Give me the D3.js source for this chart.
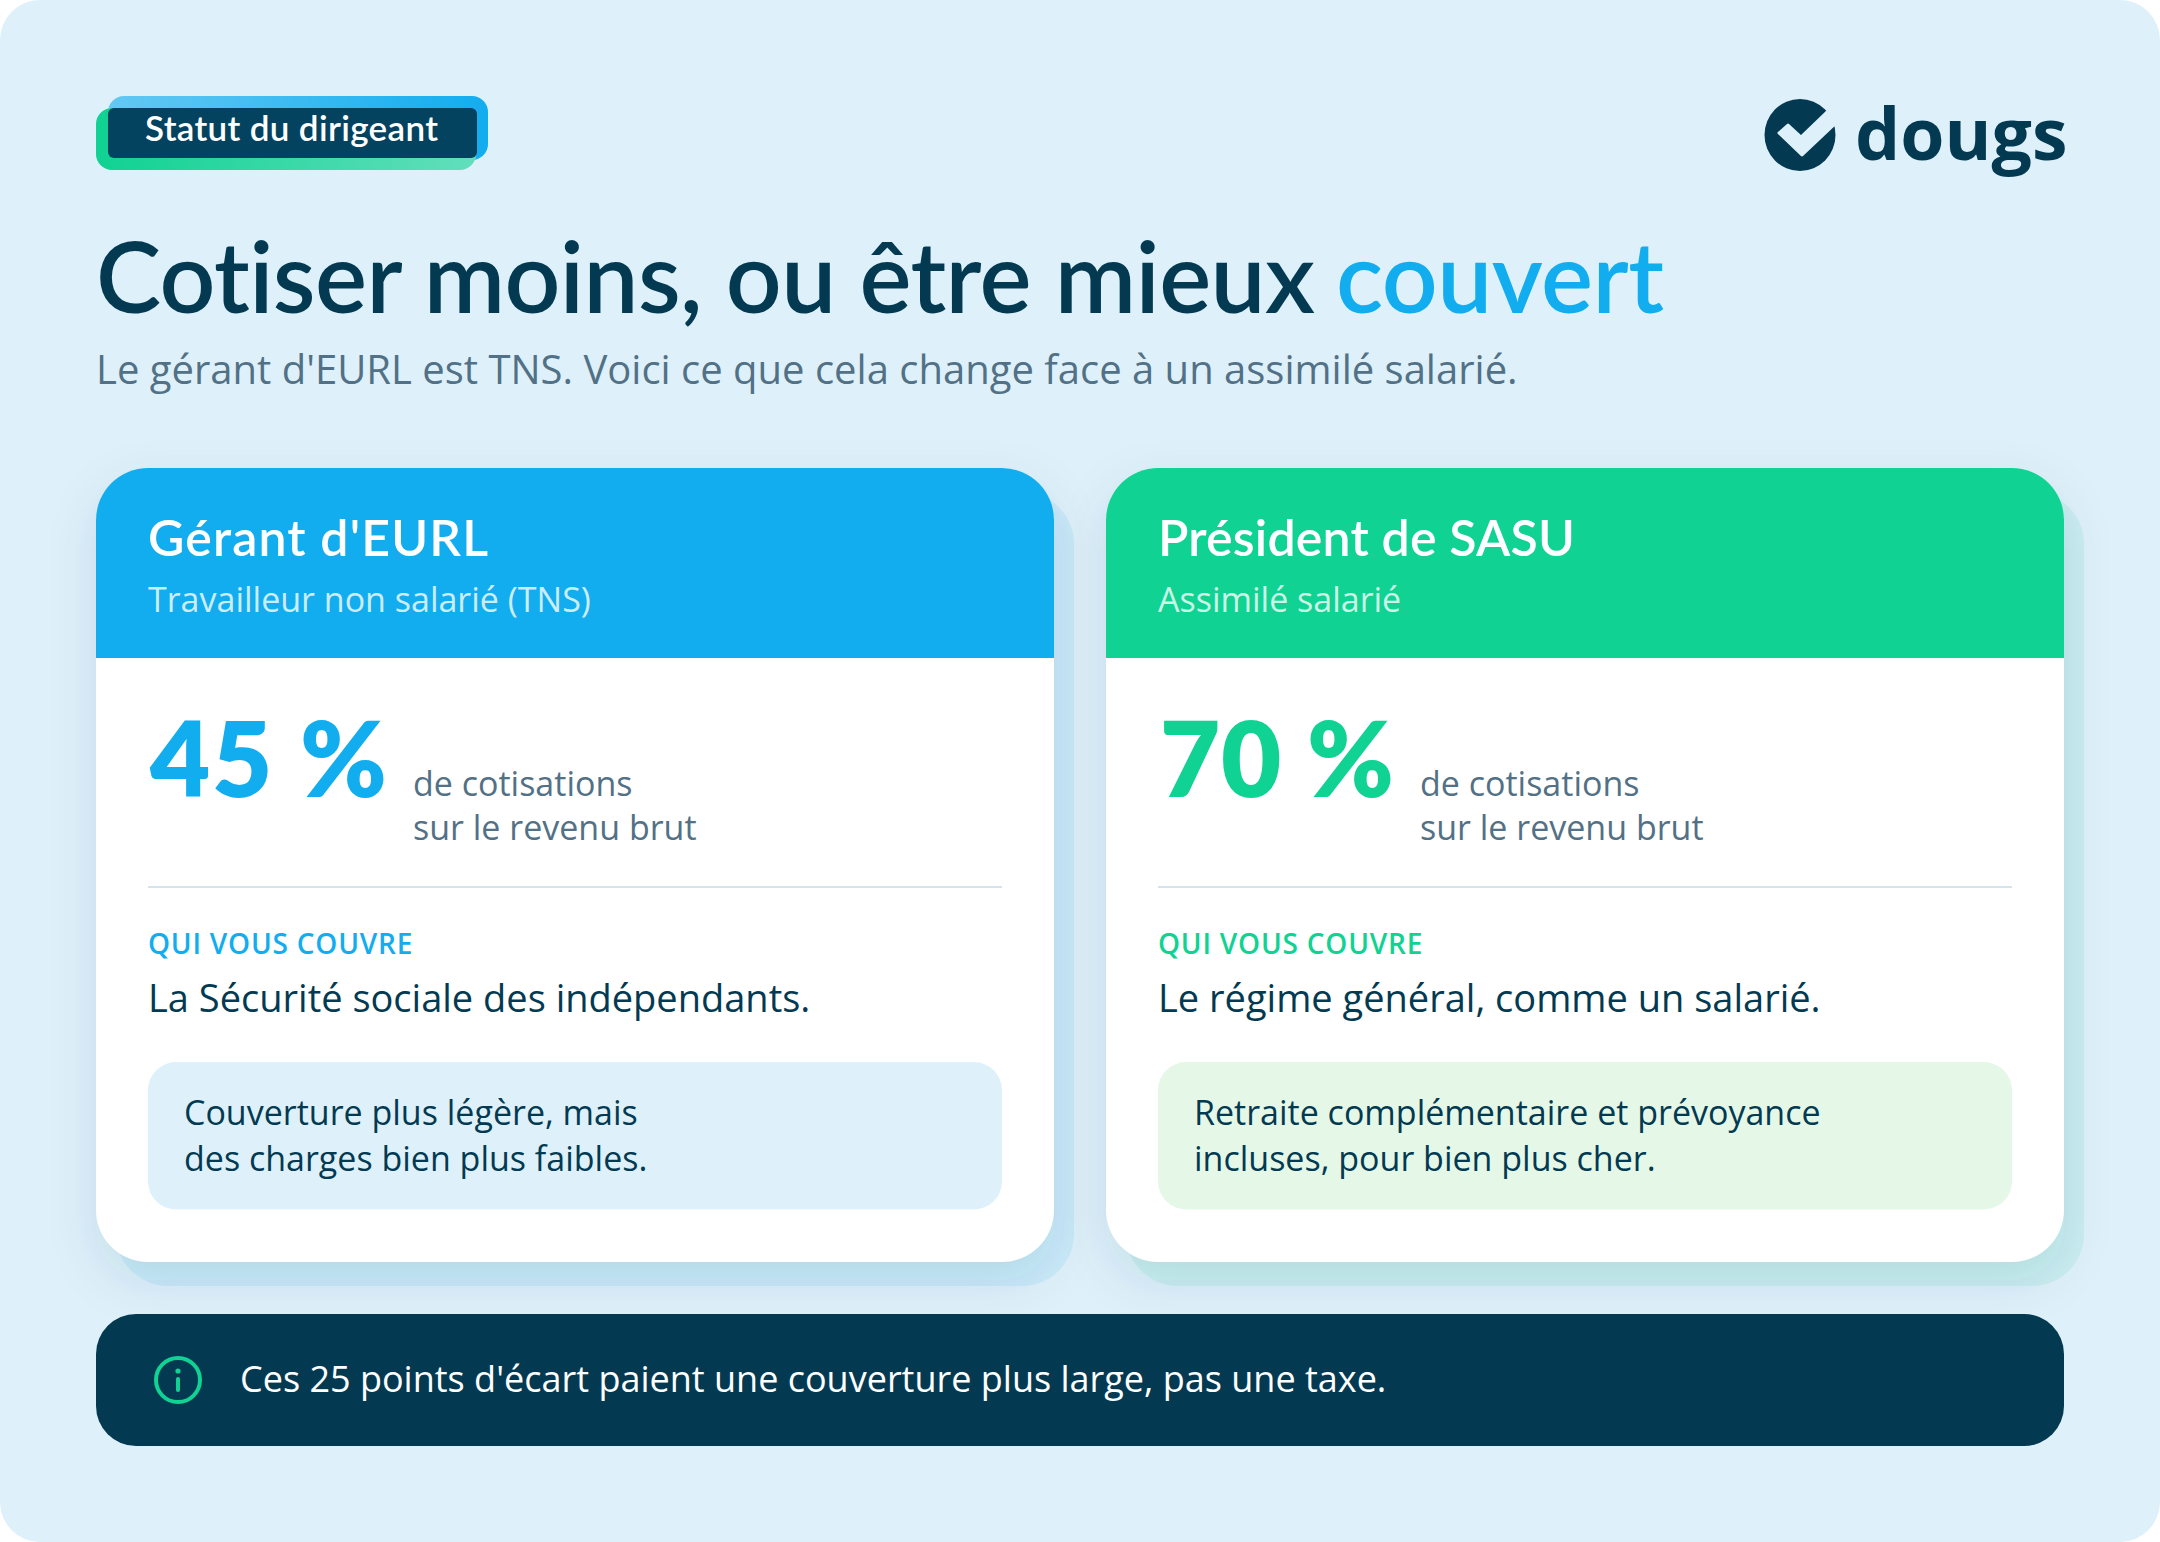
<!DOCTYPE html>
<html lang="fr">
<head>
<meta charset="utf-8">
<title>Statut du dirigeant</title>
<script src="https://cdn.jsdelivr.net/npm/d3@7"></script>
<style>
    html, body { margin: 0; padding: 0; background: #fff; }
    svg { display: block; }
    text { font-family: "Open Sans", sans-serif; }
    .display { font-family: Lato, sans-serif; font-variant-ligatures: none; }
</style>
</head>
<body>
<div id="chart"></div>
<script>
// values
var cardTitles = ["Gérant d'EURL", "Président de SASU"];
var cardSubtitles = ["Travailleur non salarié (TNS)", "Assimilé salarié"];
var rates = [45, 70];
var rateCaption = ["de cotisations", "sur le revenu brut"];
var coverLabel = "QUI VOUS COUVRE";
var coverTexts = ["La Sécurité sociale des indépendants.", "Le régime général, comme un salarié."];
var notes = [
    ["Couverture plus légère, mais", "des charges bien plus faibles."],
    ["Retraite complémentaire et prévoyance", "incluses, pour bien plus cher."]
];
var badgeText = "Statut du dirigeant";
var titleMain = "Cotiser moins, ou être mieux";
var titleAccent = "couvert";
var subtitle = "Le gérant d'EURL est TNS. Voici ce que cela change face à un assimilé salarié.";
var bannerText = "Ces 25 points d'écart paient une couverture plus large, pas une taxe.";
var logoText = "dougs";

var width = 2160, height = 1542;
var navy = "#033A52", blue = "#12ADEF", green = "#10D292", pale = "#DEF1FB", mint = "#E5F8E7", grey = "#527186";
var colors = [blue, green], noteColors = [pale, mint];

var svg = d3.select("#chart").append("svg")
    .attr("width", width)
    .attr("height", height)
    .attr("viewBox", "0 0 " + width + " " + height);

var defs = svg.append("defs");

var blurFilter = defs.append("filter").attr("id", "soft")
    .attr("x", "-15%").attr("y", "-15%").attr("width", "130%").attr("height", "130%");
blurFilter.append("feGaussianBlur").attr("stdDeviation", 24);

function gradient(id, color, first, last) {
    var g = defs.append("linearGradient").attr("id", id);
    g.append("stop").attr("offset", "0%").attr("stop-color", color).attr("stop-opacity", first);
    g.append("stop").attr("offset", "100%").attr("stop-color", color).attr("stop-opacity", last);
}
gradient("badgeBlue", blue, 0.6, 1);
gradient("badgeGreen", green, 1, 0.6);

// background panel
svg.append("rect")
    .attr("width", width)
    .attr("height", height)
    .attr("rx", 40)
    .attr("fill", pale);

// spreads glyphs so a text ends where it ends in the reference
function fit(sel, w) {
    return sel.attr("textLength", w).attr("lengthAdjust", "spacing");
}

// badge
var badge = svg.append("g");
badge.append("rect").attr("x", 108).attr("y", 96).attr("width", 380).attr("height", 64).attr("rx", 16).attr("fill", "url(#badgeBlue)");
badge.append("rect").attr("x", 96).attr("y", 108).attr("width", 380).attr("height", 62).attr("rx", 16).attr("fill", pale);
badge.append("rect").attr("x", 96).attr("y", 108).attr("width", 380).attr("height", 62).attr("rx", 16).attr("fill", "url(#badgeGreen)");
badge.append("rect").attr("x", 108).attr("y", 108).attr("width", 369).attr("height", 50).attr("rx", 6).attr("fill", "#04435F");
fit(badge.append("text").attr("class", "display")
    .attr("x", 145).attr("y", 141)
    .attr("font-size", 35).attr("font-weight", 600)
    .attr("fill", "#fff")
    .text(badgeText), 293);

// logo
var logo = svg.append("g").attr("transform", "translate(1800,135)");
logo.append("ellipse").attr("rx", 35.5).attr("ry", 36).attr("fill", navy);
logo.append("path")
    .attr("d", "M-21,-2 L-12,-10 L1,2 L27,-23 L38,-14 L2,20 Z")
    .attr("fill", pale)
    .attr("stroke", pale)
    .attr("stroke-width", 3)
    .attr("stroke-linejoin", "round");
svg.append("text")
    .attr("x", 1855).attr("y", 159.5)
    .attr("font-size", 71.5).attr("font-weight", 700)
    .attr("fill", navy)
    .text(logoText);

// title
fit(svg.append("text").attr("class", "display")
    .attr("x", 96).attr("y", 313)
    .attr("font-size", 98).attr("font-weight", 600)
    .attr("fill", navy)
    .text(titleMain), 1219);
fit(svg.append("text").attr("class", "display")
    .attr("x", 1336).attr("y", 313)
    .attr("font-size", 98).attr("font-weight", 600)
    .attr("fill", blue)
    .text(titleAccent), 328);

svg.append("text")
    .attr("x", 96).attr("y", 384)
    .attr("font-size", 40)
    .attr("fill", grey)
    .text(subtitle);

// cards
var x = d3.scaleBand()
    .domain(d3.range(cardTitles.length))
    .range([96, 2064])
    .paddingInner(52 / 1010);

var cardTop = 468, cardBottom = 1262, headBottom = 658, pad = 52, r = 52;

var cards = svg.selectAll("g.card")
    .data(cardTitles)
    .join("g")
    .attr("class", "card")
    .attr("transform", function (d, i) { return "translate(" + x(i) + ",0)"; });

var w = x.bandwidth();

cards.append("rect")
    .attr("x", 0).attr("y", cardTop + 18)
    .attr("width", w).attr("height", cardBottom - cardTop)
    .attr("rx", r)
    .attr("fill", navy)
    .attr("fill-opacity", 0.11)
    .attr("filter", "url(#soft)");

cards.append("rect")
    .attr("x", 20).attr("y", cardTop + 24)
    .attr("width", w).attr("height", cardBottom - cardTop)
    .attr("rx", r)
    .attr("fill", function (d, i) { return colors[i]; })
    .attr("fill-opacity", 0.1);

cards.append("rect")
    .attr("y", cardTop)
    .attr("width", w).attr("height", cardBottom - cardTop)
    .attr("rx", r)
    .attr("fill", "#fff");

// header with only the top corners rounded
cards.append("path")
    .attr("d", "M0," + headBottom + "V" + (cardTop + r) + "A" + r + "," + r + " 0 0 1 " + r + "," + cardTop
        + "H" + (w - r) + "A" + r + "," + r + " 0 0 1 " + w + "," + (cardTop + r) + "V" + headBottom + "Z")
    .attr("fill", function (d, i) { return colors[i]; });

cards.append("text").attr("class", "display")
    .attr("x", pad).attr("y", 556)
    .attr("font-size", 50).attr("font-weight", 600)
    .attr("fill", "#fff")
    .text(function (d) { return d; })
    .each(function (d, i) { fit(d3.select(this), [340, 417][i]); });

cards.append("text")
    .attr("x", pad).attr("y", 612)
    .attr("font-size", 34)
    .attr("fill", "#fff").attr("fill-opacity", 0.8)
    .text(function (d, i) { return cardSubtitles[i]; });

cards.append("text").attr("class", "display")
    .attr("x", pad + 2).attr("y", 797)
    .attr("font-size", 104).attr("font-weight", 800)
    .attr("fill", function (d, i) { return colors[i]; })
    .text(function (d, i) { return rates[i] + " %"; })
    .each(function (d, i) { fit(d3.select(this), [237, 234][i]); });

rateCaption.forEach(function (line, k) {
    cards.append("text")
        .attr("x", function (d, i) { return [317, 314][i]; }).attr("y", 796 + k * 44)
        .attr("font-size", 34)
        .attr("fill", grey)
        .text(line);
});

cards.append("line")
    .attr("x1", pad).attr("x2", w - pad)
    .attr("y1", 887).attr("y2", 887)
    .attr("stroke", "#D5E3EB").attr("stroke-width", 2);

cards.append("text")
    .attr("x", pad).attr("y", 954)
    .attr("font-size", 28).attr("font-weight", 600)
    .attr("letter-spacing", 0.8)
    .attr("fill", function (d, i) { return colors[i]; })
    .text(coverLabel);

cards.append("text")
    .attr("x", pad).attr("y", 1012)
    .attr("font-size", 38)
    .attr("fill", navy)
    .text(function (d, i) { return coverTexts[i]; });

cards.append("rect")
    .attr("x", pad).attr("y", 1062)
    .attr("width", w - 2 * pad).attr("height", 147.5)
    .attr("rx", 28)
    .attr("fill", function (d, i) { return noteColors[i]; });

[0, 1].forEach(function (k) {
    cards.append("text")
        .attr("x", pad + 36).attr("y", 1124.5 + k * 46)
        .attr("font-size", 34)
        .attr("fill", navy)
        .text(function (d, i) { return notes[i][k]; });
});

// banner
svg.append("rect")
    .attr("x", 96).attr("y", 1314)
    .attr("width", 1968).attr("height", 132)
    .attr("rx", 40)
    .attr("fill", navy);

var info = svg.append("g").attr("transform", "translate(178,1380)");
info.append("circle").attr("r", 22).attr("fill", "none").attr("stroke", green).attr("stroke-width", 4);
info.append("line").attr("y1", -1).attr("y2", 10).attr("stroke", green).attr("stroke-width", 4).attr("stroke-linecap", "round");
info.append("circle").attr("cy", -9).attr("r", 2.6).attr("fill", green);

svg.append("text")
    .attr("x", 240).attr("y", 1392)
    .attr("font-size", 36)
    .attr("fill", "#fff")
    .text(bannerText);
</script>
</body>
</html>
